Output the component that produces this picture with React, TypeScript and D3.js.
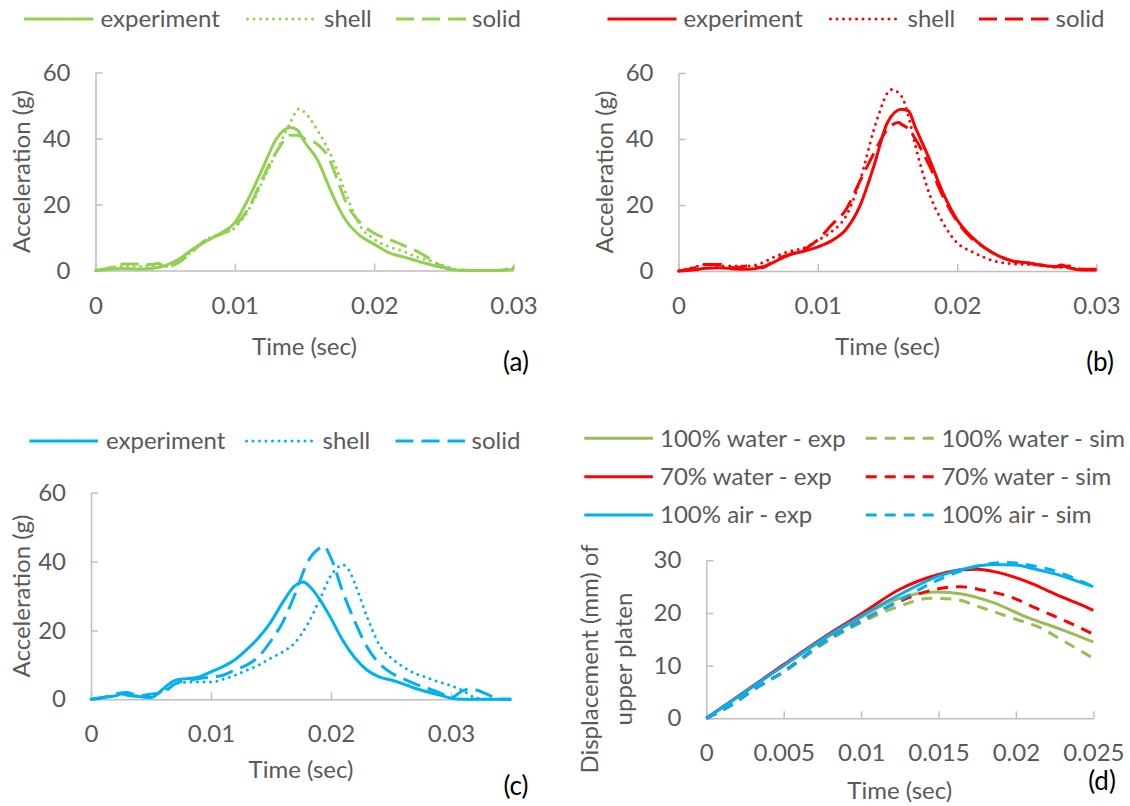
import * as d3 from "d3";
import React, { useRef, useEffect } from "react";

const GREEN = "#92D050";
const RED = "#FF0000";
const BLUE = "#00B0F0";
const OLIVE = "#9BBB59";
const TEXT = "#595959";
const AXIS = "#BFBFBF";
const FONT = "Lato, Carlito, 'DejaVu Sans', sans-serif";

// time in ms, acceleration in g
const aExperiment = [[0,0],[1,0.4],[2,0.6],[3,0.4],[4,0.6],[5,1.5],[6,3.5],[7,6.5],[8,9],[9,11.3],[10,14.5],[11,22],[12,31],[13,40],[14,43.3],[14.5,42.5],[15,39],[16,33],[16.5,28],[17,23],[18,15],[19,10.5],[20,8],[21,5.5],[22,4.2],[23,3],[24,1.8],[25,0.8],[26,0.1],[27,0],[28,0],[29,0],[30,0.3]];
const aShell = [[0,0],[1,0.8],[2,1.5],[3,1.2],[4,1.5],[5,1.2],[6,3],[7,6],[8,9.5],[9,11],[10,13],[11,18.5],[12,27],[13,36],[14,45],[14.6,49],[15,48],[16,42],[17,34],[18,23],[19,13.5],[20,9.5],[21,7.3],[22,6],[23,4.2],[24,3],[25,1.5],[26,0.2],[27,0],[28,0],[29,0.2],[30,1]];
const aSolid = [[0,0],[1,0.8],[2,2],[3,2],[4,1.8],[4.5,2.2],[5,1],[6,2.5],[7,6],[8,9.5],[9,11],[10,13.5],[11,19],[12,28],[13,36],[14,41],[14.5,41],[15,40],[16,38],[16.7,34.5],[17.4,27],[18,20.5],[19,14.5],[20,11.3],[21,9.5],[22,7.8],[23,6],[24,3.5],[25,1],[26,0.2],[27,0],[28,0],[29,0],[30,1]];

const bExperiment = [[0,0],[1,0.3],[2,0.8],[3,1],[4,0.6],[5,0.5],[6,1.2],[7,3],[8,5],[9,6],[10,7.3],[11,9.2],[12,12.5],[13,19.5],[14,31.5],[15,45],[16,49],[16.5,48.5],[17,43.5],[18,34],[19,23.5],[20,15.5],[21,10.5],[22,7],[23,4.5],[24,3],[25,2.5],[26,1.8],[27,1.3],[27.5,1.8],[28,1],[29,0.3],[30,0.4]];
const bShell = [[0,0],[1,1],[2,2],[3,1.5],[4,1.5],[5,1.5],[6,2.5],[7,4.5],[8,6],[9,7],[10,9.3],[11,12],[12,16.5],[13,27],[14,42.5],[14.5,49],[15,54],[15.3,55],[16,53],[16.5,47],[17,38],[18,23.5],[19,14.5],[20,8.5],[21,6],[22,4],[23,2.7],[24,2.2],[25,2],[26,1.7],[27,1.2],[28,1],[29,0.5],[30,0.3]];
const bSolid = [[0,0],[1,0.8],[2,2],[3,2],[4,1],[5,1.5],[6,1],[7,3.5],[8,5],[9,6.5],[10,9.5],[11,14],[12,18.5],[13,27],[14,35.5],[15,43],[15.8,45],[16,44.5],[16.5,43],[17,40],[18,32],[19,22.5],[20,15],[21,10],[22,7],[23,4.5],[24,3],[25,2.5],[26,1.8],[27,1.3],[28,1.5],[29,0.5],[30,0.5]];

const cExperiment = [[0,0],[1,0.5],[2,1],[2.7,1.7],[3,1.2],[4,0.8],[5,0.5],[6,3],[7,5.5],[8,6],[9,6.5],[10,8],[11,9.5],[12,11.5],[13,14.5],[14,18],[15,22.5],[16,28.3],[17,33],[17.7,34.1],[18,33.5],[18.5,31.7],[19,29.3],[20,23.5],[21,17],[22,12],[23,8.5],[24,6.5],[25,5.6],[26,4.5],[27,3.2],[28,2.2],[29,1.3],[30,0.3],[31,0],[33,0],[35,0]];
const cShell = [[0,0],[1,0.5],[2,1],[3,1.5],[4,1],[5,0.8],[6,2.5],[7,4.5],[8,5],[9,5],[10,5],[11,5.8],[12,7],[13,8.5],[14,10],[15,12],[16,13.8],[17,16.5],[18,21.5],[19,28.5],[20,36],[21,39],[21.5,37.5],[22,33.5],[23,24],[24,16],[25,12],[26,9.5],[27,7.5],[28,6.3],[29,5],[30,4],[31,2.5],[32,0.5],[33,0],[35,0]];
const cSolid = [[0,0],[1,0.5],[2,1.5],[3,2],[4,1],[5,1.5],[6,2],[7,4.5],[8,5.5],[9,6],[10,6.5],[11,7],[12,8.5],[13,10],[14,12.5],[15,17],[16,22.5],[17,30.5],[18,39.5],[19,43.8],[19.4,44.5],[20,41],[21,31],[22,22.5],[23,15.2],[24,10.5],[25,7.7],[26,6],[27,4.5],[28,3.2],[29,2],[30,0.5],[31,2.5],[31.5,3],[32,2.8],[33,1.5],[34,0],[35,0]];

// time in ms, displacement in mm
const dWaterExp = [[0,0],[2.5,5],[5,10],[7.5,14.8],[10,19.2],[12,22.3],[13.5,23.6],[15,24],[16.5,23.6],[18.5,22],[20.7,19.2],[23,16.8],[25,14.5]];
const dWaterSim = [[0,0],[1.6,2.5],[3.2,5.7],[5,8.8],[7.5,14],[10,18.2],[12.5,21.3],[14.5,22.8],[16,22.6],[18,20.8],[20,18.8],[21.5,17.3],[23,14.8],[25,11.4]];
const d70Exp = [[0,0],[2.5,5.1],[5,10.2],[7.5,15.2],[10,19.8],[12.5,24.5],[15,27.3],[16.5,28.2],[17.5,28.3],[18.5,27.9],[20,26.7],[21,25.6],[22,24.3],[23,23],[24,21.8],[25,20.5]];
const d70Sim = [[0,0],[1.6,2.5],[3.2,5.7],[5,8.9],[7.5,14.3],[10,18.5],[12.5,22.2],[14.4,24.2],[16.4,25],[17.9,24.3],[19.6,23.1],[21.3,20.9],[22.8,19],[25,16]];
const dAirExp = [[0,0],[2.5,5],[5,10],[7.5,15],[10,19.4],[12.5,23.5],[15,27],[17,28.6],[18.5,29.2],[20,29.1],[21,28.5],[22,27.8],[23,27],[24,26],[25,25]];
const dAirSim = [[0,0],[1.6,2.5],[3.2,5.7],[5,8.8],[7.5,14.3],[10,18.4],[12.5,22.4],[15,26.3],[17,28.5],[19.5,29.6],[21,29],[22,28.4],[23,27.5],[24,26.3],[25,25]];

const accTicks = [0, 20, 40, 60];
const timeTicks30 = [0, 0.01, 0.02, 0.03];
const dispTicks = [0, 10, 20, 30];
const timeTicks25 = [0, 0.005, 0.01, 0.015, 0.02, 0.025];
const modelNames = ["experiment", "shell", "solid"];
const dNames = ["100% water - exp", "100% water - sim", "70% water - exp", "70% water - sim", "100% air - exp", "100% air - sim"];

const DOT = "0 6.5";
const LONG = "18 8";
const DASH = "11 8";
const FS = "24px";

const panels = [
  {
    box: [95.5, 513.5, 72.5, 270.5], xMax: 0.03, xTicks: timeTicks30, yMax: 60, yTicks: accTicks,
    yTitle: ["Acceleration (g)"], yTitleX: [22], yTitleY: 171.5, xTitleY: 347, tag: "(a)", tagPos: [516, 362],
    series: [
      { data: aExperiment, color: GREEN, dash: null },
      { data: aShell, color: GREEN, dash: DOT },
      { data: aSolid, color: GREEN, dash: LONG },
    ],
    legend: modelNames.map((n, i) => ({ label: n, color: GREEN, dash: [null, DOT, LONG][i], y: 19, pos: [[24, 93.5, 100.5], [247.5, 316, 324], [396, 466, 472]][i] })),
  },
  {
    box: [678.5, 1096.5, 73, 271], xMax: 0.03, xTicks: timeTicks30, yMax: 60, yTicks: accTicks,
    yTitle: ["Acceleration (g)"], yTitleX: [605], yTitleY: 172, xTitleY: 347, tag: "(b)", tagPos: [1100, 362],
    series: [
      { data: bExperiment, color: RED, dash: null },
      { data: bShell, color: RED, dash: DOT },
      { data: bSolid, color: RED, dash: LONG },
    ],
    legend: modelNames.map((n, i) => ({ label: n, color: RED, dash: [null, DOT, LONG][i], y: 19, pos: [[607.5, 676.5, 683.5], [830.5, 898.5, 907.5], [979, 1048.5, 1055.5]][i] })),
  },
  {
    box: [91, 511, 492.7, 699.3], xMax: 0.035, xTicks: timeTicks30, yMax: 60, yTicks: accTicks,
    yTitle: ["Acceleration (g)"], yTitleX: [21.5], yTitleY: 596, xTitleY: 770, tag: "(c)", tagPos: [516, 786],
    series: [
      { data: cExperiment, color: BLUE, dash: null },
      { data: cShell, color: BLUE, dash: DOT },
      { data: cSolid, color: BLUE, dash: LONG },
    ],
    legend: modelNames.map((n, i) => ({ label: n, color: BLUE, dash: [null, DOT, LONG][i], y: 441, pos: [[29.5, 98, 106], [246.5, 314.5, 322.5], [395.5, 465, 471.5]][i] })),
  },
  {
    box: [706.3, 1093.3, 560.3, 718.3], xMax: 0.025, xTicks: timeTicks25, yMax: 30, yTicks: dispTicks,
    yTitle: ["Displacement (mm) of", "upper platen"], yTitleX: [590, 624], yTitleY: 659, xTitleY: 791, tag: "(d)", tagPos: [1102, 781],
    series: [
      { data: dWaterExp, color: OLIVE, dash: null },
      { data: dWaterSim, color: OLIVE, dash: DASH },
      { data: d70Exp, color: RED, dash: null },
      { data: d70Sim, color: RED, dash: DASH },
      { data: dAirExp, color: BLUE, dash: null },
      { data: dAirSim, color: BLUE, dash: DASH },
    ],
    legend: dNames.map((n, i) => ({
      label: n, color: [OLIVE, OLIVE, RED, RED, BLUE, BLUE][i], dash: i % 2 ? DASH : null,
      y: [438.3, 476.7, 515][Math.floor(i / 2)], pos: i % 2 ? [865.7, 934.3, 941.4] : [584.3, 652.9, 660],
    })),
  },
];

const App = () => {
  const ref = useRef(null);

  useEffect(() => {
    const svg = d3.select(ref.current);
    svg.selectAll("*").remove();

    panels.forEach((p) => {
      const [x0, x1, y0, y1] = p.box;
      const x = d3.scaleLinear().domain([0, p.xMax]).range([x0, x1]);
      const y = d3.scaleLinear().domain([0, p.yMax]).range([y1, y0]);
      const g = svg.append("g");

      const xAxis = g.append("g").attr("transform", `translate(0,${y1})`)
        .call(d3.axisBottom(x).tickValues(p.xTicks).tickSize(-7).tickSizeOuter(0).tickPadding(26).tickFormat((d) => String(d)));
      const yAxis = g.append("g").attr("transform", `translate(${x0},0)`)
        .call(d3.axisLeft(y).tickValues(p.yTicks).tickSize(-7).tickSizeOuter(0).tickPadding(25).tickFormat((d) => String(d)));
      [xAxis, yAxis].forEach((a) => {
        a.selectAll("path, line").attr("stroke", AXIS).attr("stroke-width", 1.5);
        a.selectAll("text").attr("fill", TEXT).style("font-family", FONT).style("font-size", FS);
      });

      const line = d3.line().x((d) => x(d[0] / 1000)).y((d) => y(d[1])).curve(d3.curveMonotoneX);
      p.series.forEach((s) => {
        g.append("path").attr("d", line(s.data)).attr("fill", "none")
          .attr("stroke", s.color).attr("stroke-width", 3)
          .attr("stroke-linecap", s.dash === DOT ? "round" : "butt")
          .attr("stroke-linejoin", "round")
          .attr("stroke-dasharray", s.dash);
      });

      p.yTitle.forEach((t, i) => {
        g.append("text").attr("transform", `translate(${p.yTitleX[i]},${p.yTitleY}) rotate(-90)`)
          .attr("text-anchor", "middle").attr("dy", "0.35em").attr("fill", TEXT)
          .style("font-family", FONT).style("font-size", FS).text(t);
      });
      g.append("text").attr("x", (x0 + x1) / 2).attr("y", p.xTitleY).attr("dy", "0.35em")
        .attr("text-anchor", "middle").attr("fill", TEXT)
        .style("font-family", FONT).style("font-size", FS).text("Time (sec)");
      g.append("text").attr("x", p.tagPos[0]).attr("y", p.tagPos[1]).attr("dy", "0.35em")
        .attr("text-anchor", "middle").attr("fill", "#000")
        .style("font-family", FONT).style("font-size", "26px").text(p.tag);

      p.legend.forEach((l) => {
        g.append("line").attr("x1", l.pos[0]).attr("x2", l.pos[1]).attr("y1", l.y).attr("y2", l.y)
          .attr("stroke", l.color).attr("stroke-width", 3)
          .attr("stroke-linecap", l.dash === DOT ? "round" : "butt")
          .attr("stroke-dasharray", l.dash);
        g.append("text").attr("x", l.pos[2]).attr("y", l.y).attr("dy", "0.35em").attr("fill", TEXT)
          .style("font-family", FONT).style("font-size", FS).text(l.label);
      });
    });
  }, []);

  return (
    <svg ref={ref} width={1130} height={806}
      style={{ position: "absolute", left: 0, top: 0, background: "#fff" }} />
  );
};

export default App;
